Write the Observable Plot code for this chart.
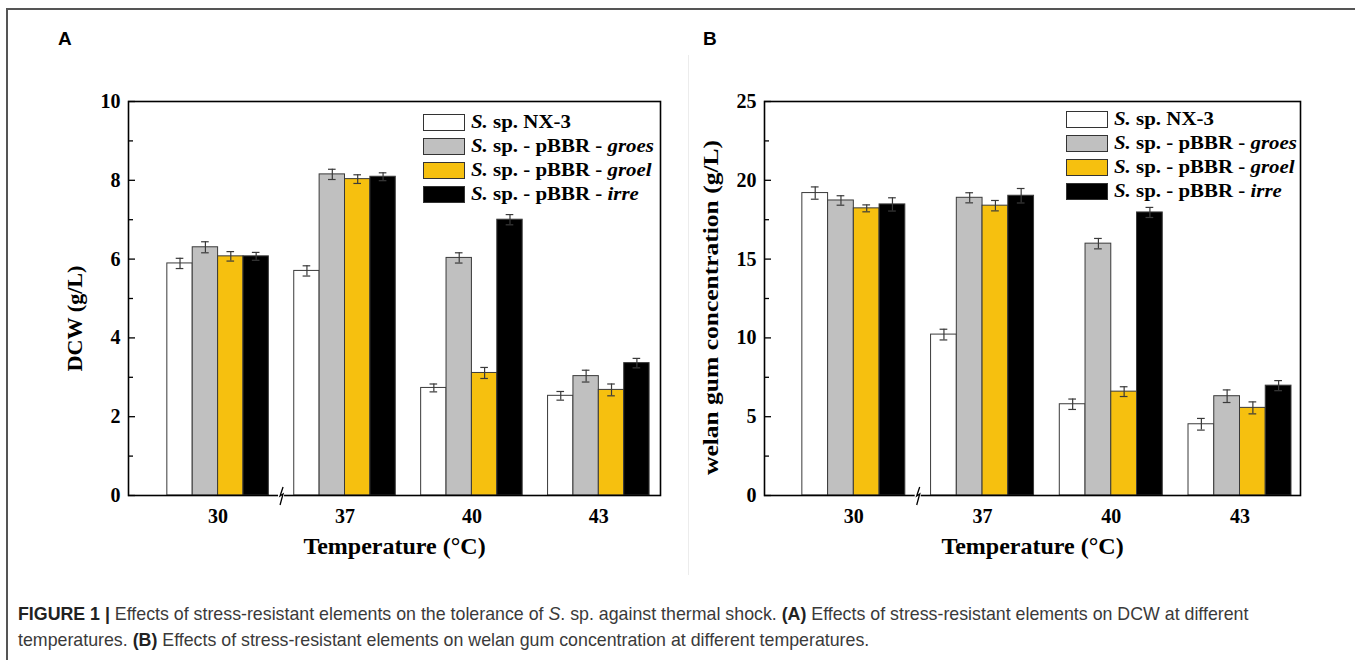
<!DOCTYPE html>
<html><head><meta charset="utf-8">
<script src="https://cdn.jsdelivr.net/npm/d3@7"></script>
<script src="https://cdn.jsdelivr.net/npm/@observablehq/plot@0.6"></script>
<style>
body{margin:0;background:#fff;}
#root{position:relative;width:1355px;height:660px;overflow:hidden;background:#fff;}
.border{position:absolute;left:6px;top:8px;width:1400px;height:700px;border-top:2px solid #555;border-left:2px solid #555;}
.vline{position:absolute;left:688px;top:55px;width:1px;height:520px;background:#ececec;}
.panel{position:absolute;top:0;}
.plabel{position:absolute;font-family:'Liberation Sans',Arial,sans-serif;font-weight:bold;font-size:19px;line-height:19px;color:#000;}
.legend{position:absolute;font-family:'Liberation Serif','Times New Roman',serif;font-weight:bold;font-size:19px;color:#000;}
.legend .row{position:absolute;left:0;height:17px;white-space:nowrap;}
.legend .sw{position:absolute;left:0;top:0;width:42px;height:17px;border:1px solid #333;box-sizing:border-box;}
.legend .tx{position:absolute;left:48px;top:-4px;line-height:24px;transform:scaleX(1.1);transform-origin:left center;}
.caption{position:absolute;left:18px;top:601px;font-family:'Liberation Sans',Arial,sans-serif;font-size:17.8px;line-height:26px;color:#3a3a3a;white-space:nowrap;}
</style></head>
<body><div id="root">
<div class="border"></div>
<div class="vline"></div>
<div class="plabel" style="left:58px;top:29px;">A</div>
<div class="plabel" style="left:703px;top:29px;">B</div>
<div id="panelA" class="panel" style="left:0px;"></div>
<div id="panelB" class="panel" style="left:640px;"></div>
<div id="legendA" class="legend" style="left:423px;top:114px;"></div>
<div id="legendB" class="legend" style="left:1066px;top:111px;"></div>
<div class="caption"><b style="color:#222">FIGURE 1 |</b> Effects of stress-resistant elements on the tolerance of <i>S</i>. sp. against thermal shock. <b style="color:#222">(A)</b> Effects of stress-resistant elements on DCW at different<br>temperatures. <b style="color:#222">(B)</b> Effects of stress-resistant elements on welan gum concentration at different temperatures.</div>
</div>
<script>
// ---- data ----
const temps = ["30", "37", "40", "43"];
const seriesNames = ["S. sp. NX-3", "S. sp. - pBBR - groes", "S. sp. - pBBR - groel", "S. sp. - pBBR - irre"];
const seriesColors = ["#ffffff", "#c0c0c0", "#f6c00f", "#000000"];

// Panel A: DCW (g/L)
const dcwNX3   = [5.89, 5.70, 2.73, 2.53];
const dcwGroes = [6.30, 8.15, 6.03, 3.03];
const dcwGroel = [6.07, 8.03, 3.11, 2.68];
const dcwIrre  = [6.07, 8.09, 7.00, 3.36];
const dcwNX3Err   = [0.13, 0.13, 0.10, 0.11];
const dcwGroesErr = [0.14, 0.13, 0.13, 0.15];
const dcwGroelErr = [0.12, 0.11, 0.14, 0.15];
const dcwIrreErr  = [0.10, 0.10, 0.13, 0.12];

// Panel B: welan gum concentration (g/L)
const welanNX3   = [19.19, 10.21, 5.79, 4.52];
const welanGroes = [18.72, 18.89, 15.98, 6.30];
const welanGroel = [18.22, 18.39, 6.59, 5.56];
const welanIrre  = [18.47, 19.02, 17.96, 6.97];
const welanNX3Err   = [0.39, 0.34, 0.33, 0.37];
const welanGroesErr = [0.30, 0.32, 0.33, 0.40];
const welanGroelErr = [0.22, 0.33, 0.31, 0.38];
const welanIrreErr  = [0.42, 0.46, 0.32, 0.32];

const dcwTicksMajor = [0, 2, 4, 6, 8, 10];
const dcwTicksMinor = [1, 3, 5, 7, 9];
const welanTicksMajor = [0, 5, 10, 15, 20, 25];
const welanTicksMinor = [2.5, 7.5, 12.5, 17.5, 22.5];

// ---- build ----
const NS = seriesNames.length;
const GROUP = NS + 1; // slots per temperature group (bars + one gap)

function makeTable(vals, errs) {
  const rows = [];
  temps.forEach((t, ti) => seriesNames.forEach((s, si) =>
    rows.push({temp: t, ti, series: s, si, value: vals[si][ti], err: errs[si][ti]})));
  return rows;
}

function chart({table, yDomain, majors, minors, yLabel, yLabelLength, yLabelDy, xDomain, marginLeft}) {
  const pos = d => d.ti * GROUP + d.si;
  const edge = "#3a3a3a";
  const plot = Plot.plot({
    width: 690, height: 580,
    marginTop: 101, marginBottom: 85, marginLeft, marginRight: 30,
    x: {domain: xDomain, axis: null},
    y: {domain: yDomain, axis: null},
    color: {domain: seriesNames, range: seriesColors},
    style: {fontFamily: "'Liberation Serif','Times New Roman',serif", fontWeight: "bold", color: "#000", background: "transparent", overflow: "visible"},
    marks: [
      Plot.rect(table, {x1: pos, x2: d => pos(d) + 1, y1: 0, y2: "value", fill: "series", stroke: edge, strokeWidth: 1}),
      Plot.ruleX(table, {x: d => pos(d) + 0.5, y1: d => d.value - d.err, y2: d => d.value + d.err, stroke: edge, strokeWidth: 1.2}),
      Plot.ruleY(table, {x1: d => pos(d) + 0.35, x2: d => pos(d) + 0.65, y: d => d.value + d.err, stroke: edge, strokeWidth: 1.2}),
      Plot.ruleY(table, {x1: d => pos(d) + 0.35, x2: d => pos(d) + 0.65, y: d => d.value - d.err, stroke: edge, strokeWidth: 1.2}),
      Plot.frame({stroke: "#000", strokeWidth: 1.6}),
      Plot.axisY({ticks: minors, tickSize: -5, tickFormat: () => "", label: null, strokeWidth: 1.3}),
      Plot.axisY({ticks: majors, tickSize: -7, tickPadding: 15, fontSize: 20, label: null, strokeWidth: 1.3}),
      Plot.axisX({ticks: temps.map((t, i) => i * GROUP + NS / 2), tickFormat: v => temps[Math.round((v - NS / 2) / GROUP)], tickSize: 0, tickPadding: 13, fontSize: 20, label: null}),
      Plot.text([yLabel], {text: d => d, frameAnchor: "left", textAnchor: "middle", rotate: -90, dx: -54, dy: yLabelDy, fontSize: 22, fontWeight: "bold"}),
      Plot.text(["Temperature (\u00B0C)"], {text: d => d, frameAnchor: "bottom", textAnchor: "middle", dy: 58, fontSize: 24, fontWeight: "bold"})
    ]
  });
  const svg = d3.select(plot.tagName.toLowerCase() === "svg" ? plot : plot.querySelector("svg"));
  // condensed axis title, as in the source figure
  svg.selectAll("text").filter(function () { return this.textContent === yLabel; })
    .attr("textLength", yLabelLength).attr("lengthAdjust", "spacingAndGlyphs");
  // axis break between the first and second group
  const xs = plot.scale("x"), ys = plot.scale("y");
  const bx = xs.apply(GROUP - 0.5), by = ys.apply(0);
  svg.append("rect").attr("x", bx - 3).attr("y", by - 2).attr("width", 6).attr("height", 4).attr("fill", "#fff");
  svg.append("path").attr("d", `M${bx + 2},${by - 8} L${bx - 1},${by + 1} L${bx + 2},${by - 1} L${bx - 1},${by + 10}`)
    .attr("fill", "none").attr("stroke", "#000").attr("stroke-width", 1.3);
  return plot;
}

function legend(el) {
  const italic = s => s.replace(/^S\./, "<i>S.</i>").replace(/(groes|groel|irre)$/, "<i>$1</i>");
  seriesNames.forEach((s, i) => {
    const row = document.createElement("div");
    row.className = "row";
    row.style.top = (i * 24) + "px";
    row.innerHTML = `<div class="sw" style="background:${seriesColors[i]}"></div><div class="tx">${italic(s)}</div>`;
    el.appendChild(row);
  });
}

document.getElementById("panelA").appendChild(chart({
  table: makeTable([dcwNX3, dcwGroes, dcwGroel, dcwIrre], [dcwNX3Err, dcwGroesErr, dcwGroelErr, dcwIrreErr]),
  yDomain: [0, 10], majors: dcwTicksMajor, minors: dcwTicksMinor,
  yLabel: "DCW (g/L)", yLabelLength: 106, yLabelDy: 20, xDomain: [-1.53, 19.43], marginLeft: 128
}));
document.getElementById("panelB").appendChild(chart({
  table: makeTable([welanNX3, welanGroes, welanGroel, welanIrre], [welanNX3Err, welanGroesErr, welanGroelErr, welanIrreErr]),
  yDomain: [0, 25], majors: welanTicksMajor, minors: welanTicksMinor,
  yLabel: "welan gum concentration (g/L)", yLabelLength: 335, yLabelDy: 9, xDomain: [-1.47, 19.35], marginLeft: 124
}));
legend(document.getElementById("legendA"));
legend(document.getElementById("legendB"));
</script>
</body></html>
